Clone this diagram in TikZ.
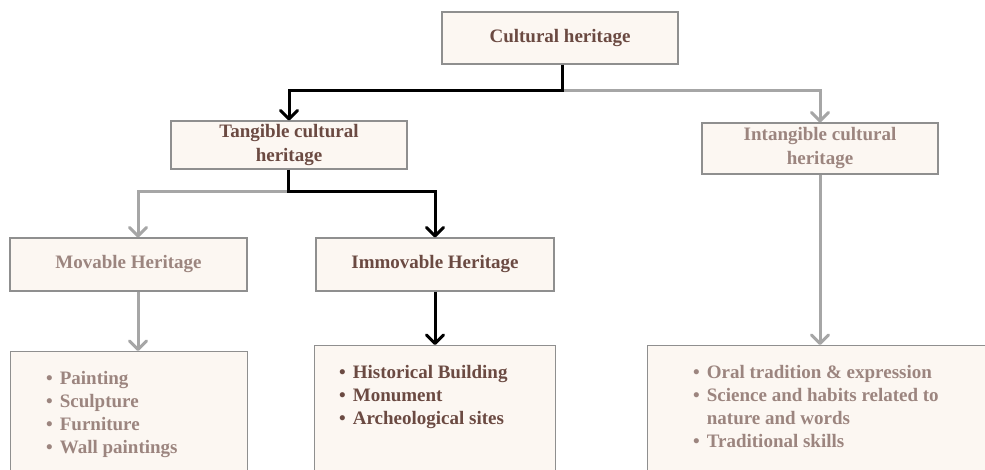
\documentclass[tikz,border=0pt]{standalone}
\usepackage{fontspec}
\setmainfont{Liberation Serif}
\usetikzlibrary{arrows.meta}

\definecolor{boxfill}{HTML}{FCF7F2}
\definecolor{boxline}{HTML}{8F8F8F}
\definecolor{darktext}{HTML}{6B4A42}
\definecolor{softtext}{HTML}{9C857F}
\definecolor{greyline}{HTML}{A6A6A6}

\newcommand{\itemlist}[1]{%
  {\renewcommand{\arraystretch}{1}%
   \begin{tabular}{@{}l@{\hspace{7pt}}l@{}}#1\end{tabular}}}

\begin{document}
\begin{tikzpicture}[x=1pt,y=-1pt,
  box/.style={draw=boxline, line width=1.1pt, fill=boxfill, inner sep=0pt,
    align=center, font=\fontsize{19}{24}\selectfont\bfseries},
  listtext/.style={inner sep=0pt, anchor=north west,
    font=\fontsize{19}{23}\selectfont\bfseries},
  darkbox/.style={box, text=darktext},
  softbox/.style={box, text=softtext},
  tipshape/.style={-{Straight Barb[length=8.5pt,width=17pt,round]}},
  blackarrow/.style={tipshape, line width=3pt, draw=black},
  greyarrow/.style={tipshape, line width=3pt, draw=greyline},
]
\useasboundingbox (0,0) rectangle (985,470);
\fill[white] (0,0) rectangle (985,470);
\begin{scope}
\clip (0,0) rectangle (985,470);

% top level
\node[darkbox, minimum width=236pt, minimum height=52pt] (culture) at (560,38) {Cultural heritage};

% second level
\node[darkbox, minimum width=236pt, minimum height=48pt] (tang) at (289,145) {Tangible cultural\\heritage};
\node[softbox, minimum width=236pt, minimum height=51pt] (intang) at (820,148.5) {Intangible cultural\\heritage};

% third level
\node[softbox, minimum width=237pt, minimum height=53pt] (mov) at (128.5,264.5) {Movable Heritage};
\node[darkbox, minimum width=238pt, minimum height=53pt] (immov) at (435,264.5) {Immovable Heritage};

% list boxes (running off the lower edge)
\node[box, minimum width=237pt, minimum height=150pt, anchor=north west] (movlist) at (10,351) {};
\node[box, minimum width=241pt, minimum height=150pt, anchor=north west] (immovlist) at (314,345) {};
\node[box, minimum width=360pt, minimum height=150pt, anchor=north west] (intlist) at (647,345) {};

\node[listtext, text=softtext] (movitems) at (46,368) {\itemlist{%
  \textbullet & Painting\\
  \textbullet & Sculpture\\
  \textbullet & Furniture\\
  \textbullet & Wall paintings}};
\node[listtext, text=darktext] (immovitems) at (339,362) {\itemlist{%
  \textbullet & Historical Building\\
  \textbullet & Monument\\
  \textbullet & Archeological sites}};
\node[listtext, text=softtext] (intitems) at (693,362) {\itemlist{%
  \textbullet & Oral tradition \& expression\\
  \textbullet & Science and habits related to\\
              & nature and words\\
  \textbullet & Traditional skills}};

% connectors
\coordinate (topfork) at (562,91);
\coordinate (tangfork) at (288,192);
\coordinate (movdrop) at ([xshift=9.5pt]mov.south);
\draw[greyarrow] (topfork) -| (intang.north);
\draw[blackarrow] (culture.south -| topfork) -- (topfork) -| (tang.north);
\draw[greyarrow] (tangfork) -| (mov.north -| movdrop);
\draw[blackarrow] (tang.south -| tangfork) -- (tangfork) -| (immov.north);
\draw[greyarrow] (movdrop) -- (movdrop |- movlist.north);
\draw[blackarrow] (immov.south) -- (immov.south |- immovlist.north);
\draw[greyarrow] (intang.south) -- (intang.south |- intlist.north);
\end{scope}
\end{tikzpicture}
\end{document}
